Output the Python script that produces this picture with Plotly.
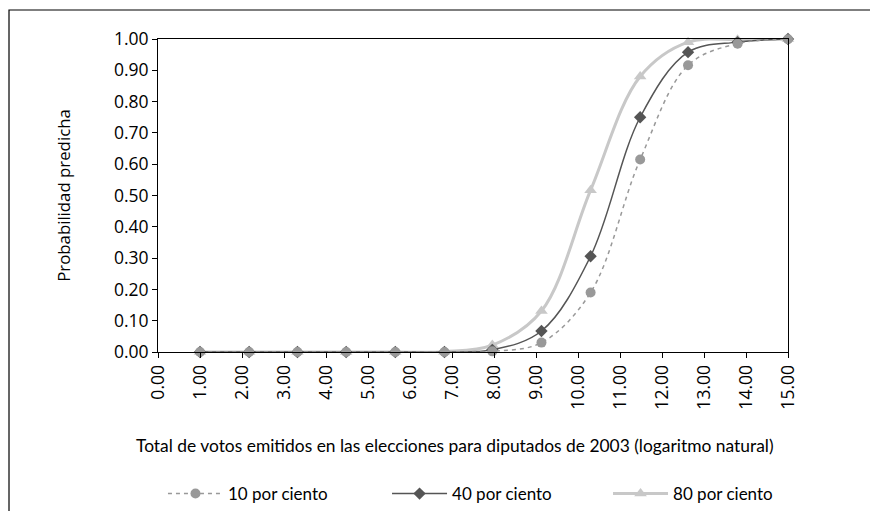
import plotly.graph_objects as go

# Data
x_vals = [1.00, 2.17, 3.32, 4.48, 5.65, 6.82, 7.96, 9.13, 10.30, 11.48, 12.62, 13.80, 15.00]
p10 = [0.0, 0.0, 0.0, 0.0, 0.0, 0.0, 0.002, 0.030, 0.190, 0.615, 0.916, 0.985, 0.999]
p40 = [0.0, 0.0, 0.0, 0.0, 0.0, 0.0, 0.007, 0.067, 0.306, 0.750, 0.958, 0.990, 1.000]
p80 = [0.0, 0.0, 0.0, 0.0, 0.0, 0.001, 0.022, 0.131, 0.517, 0.880, 0.990, 0.998, 1.000]
names = ["10 por ciento", "40 por ciento", "80 por ciento"]
x_title = "Total de votos emitidos en las elecciones para diputados de 2003 (logaritmo natural)"
y_title = "Probabilidad predicha"

FONT = "Open Sans"
TFONT = "Lato"

fig = go.Figure()
fig.add_trace(go.Scatter(
    x=x_vals, y=p80, name=names[2], mode="lines+markers", legend="legend3",
    line=dict(color="#c8c8c8", width=3, shape="spline"),
    marker=dict(symbol="triangle-up", size=11, color="#c8c8c8"),
    cliponaxis=False,
))
fig.add_trace(go.Scatter(
    x=x_vals, y=p40, name=names[1], mode="lines+markers", legend="legend2",
    line=dict(color="#555555", width=1.5, shape="spline"),
    marker=dict(symbol="diamond", size=9.5, color="#555555"),
    cliponaxis=False,
))
fig.add_trace(go.Scatter(
    x=x_vals, y=p10, name=names[0], mode="lines+markers", legend="legend",
    line=dict(color="#999999", width=1.5, shape="spline", dash="4px,4px"),
    marker=dict(symbol="circle", size=10, color="#999999"),
    cliponaxis=False,
))

def leg(xpos):
    return dict(
        orientation="h", xref="container", yref="container",
        x=xpos, xanchor="left", y=0.0489, yanchor="middle",
        itemwidth=55, font=dict(family=TFONT, size=17),
        bgcolor="rgba(0,0,0,0)",
    )

fig.update_layout(
    width=878, height=511,
    margin=dict(l=150, r=98, t=31, b=167),
    paper_bgcolor="white", plot_bgcolor="white",
    font=dict(family=FONT, size=16, color="black"),
    showlegend=True,
    legend=leg(0.1765),
    legend2=leg(0.4317),
    legend3=leg(0.6834),
    xaxis=dict(
        range=[0, 15], dtick=1, tick0=0, tickformat=".2f", tickangle=-90,
        showgrid=False, zeroline=False, showline=True, linecolor="black",
        linewidth=1, mirror=True, ticks="outside", ticklen=5, tickcolor="black",
        tickfont=dict(family=FONT, size=17.5),
    ),
    yaxis=dict(
        range=[0, 1], dtick=0.1, tick0=0, tickformat=".2f",
        showgrid=False, zeroline=False, showline=True, linecolor="black",
        linewidth=1, mirror=True, ticks="outside", ticklen=5, tickcolor="black",
        tickfont=dict(family=FONT, size=17.5),
        title=dict(text=y_title, font=dict(family=FONT, size=16.8), standoff=38),
    ),
    annotations=[dict(
        text=x_title, xref="paper", yref="paper", x=0.4714, y=-0.300,
        xanchor="center", yanchor="middle", showarrow=False,
        font=dict(family=TFONT, size=17.4),
    )],
    shapes=[dict(
        type="rect", xref="paper", yref="paper",
        x0=-0.2365, x1=1.16, y0=-0.58, y1=1.0927,
        line=dict(color="black", width=1.2), fillcolor="rgba(0,0,0,0)",
        layer="below",
    )],
)

fig.write_html("out.html")
